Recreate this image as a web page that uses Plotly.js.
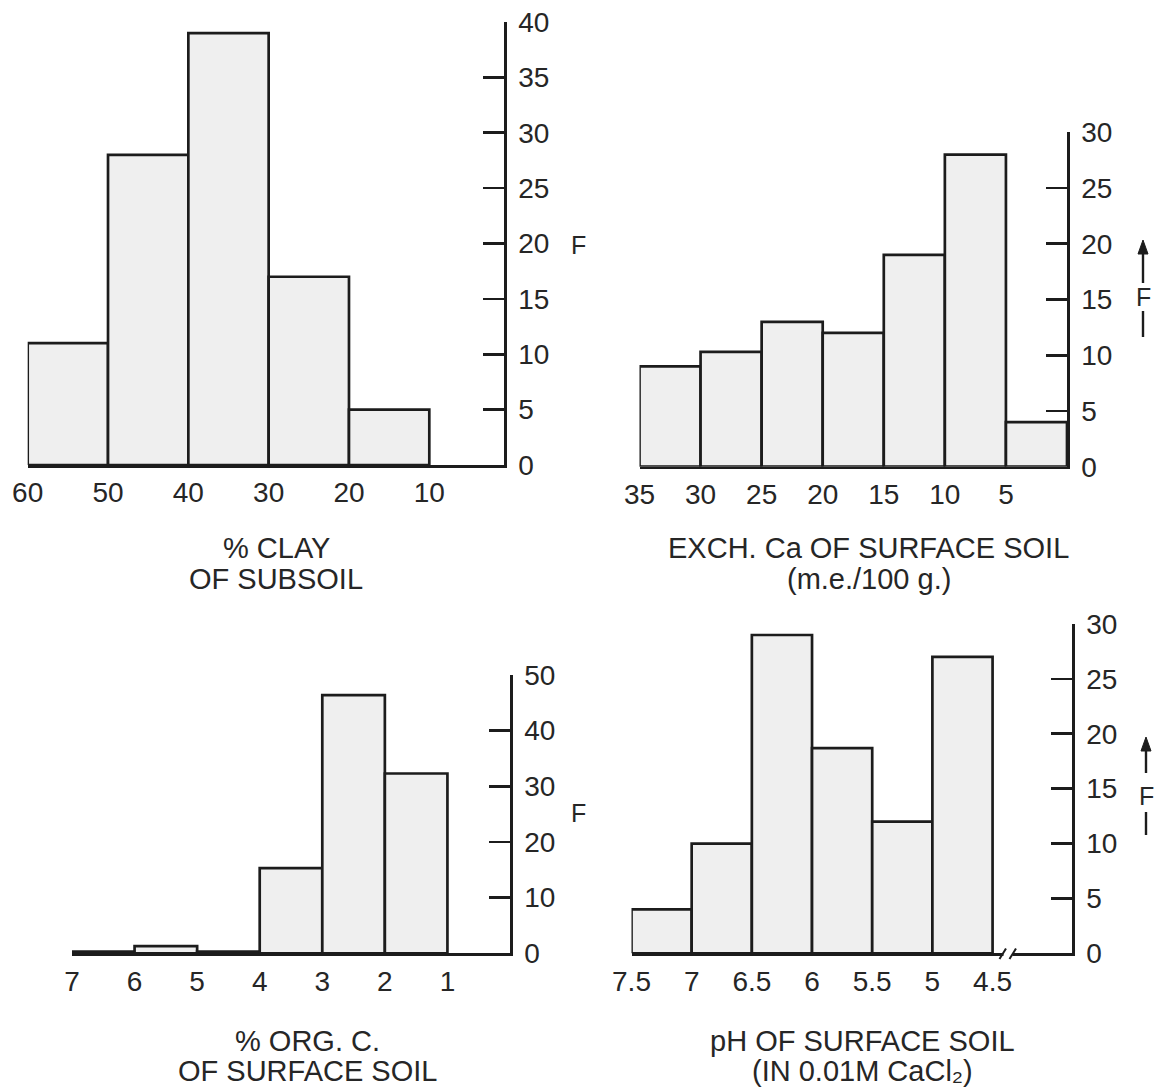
<!DOCTYPE html>
<html>
<head>
<meta charset="utf-8">
<script src="https://cdn.plot.ly/plotly-3.0.1.min.js"></script>
<style>
html,body{margin:0;padding:0;background:#fff;}
#chart{width:1156px;height:1090px;}
</style>
</head>
<body>
<div id="chart"></div>
<script>
// ---- data ----
const clayEdges = [60, 50, 40, 30, 20, 10];
const clayFreq  = [11, 28, 39, 17, 5];
const clayXTicks = [60, 50, 40, 30, 20, 10];
const clayYTicks = [0, 5, 10, 15, 20, 25, 30, 35, 40];

const caEdges = [35, 30, 25, 20, 15, 10, 5, 0];
const caFreq  = [9, 10.3, 13, 12, 19, 28, 4];
const caXTicks = [35, 30, 25, 20, 15, 10, 5];
const caYTicks = [0, 5, 10, 15, 20, 25, 30];

const orgEdges = [7, 6, 5, 4, 3, 2, 1];
const orgFreq  = [0.3, 1.3, 0.3, 15.3, 46.4, 32.3];
const orgXTicks = [7, 6, 5, 4, 3, 2, 1];
const orgYTicks = [0, 10, 20, 30, 40, 50];

const phEdges = [7.5, 7, 6.5, 6, 5.5, 5, 4.5];
const phFreq  = [4, 10, 29, 18.7, 12, 27];
const phXTicks = [7.5, 7, 6.5, 6, 5.5, 5, 4.5];
const phYTicks = [0, 5, 10, 15, 20, 25, 30];

const titles = [
  ['% CLAY', 'OF SUBSOIL'],
  ['EXCH. Ca OF SURFACE SOIL', '(m.e./100 g.)'],
  ['% ORG. C.', 'OF SURFACE SOIL'],
  ['pH OF SURFACE SOIL', '(IN 0.01M CaCl\u2082)']
];

// ---- layout helpers (pixel -> paper) ----
const W = 1156, H = 1090;
const px = v => v / W;
const py = v => 1 - v / H;
const INK = '#1c1c1c';
const TXT = '#262626';
const FONT = 'Liberation Sans, DejaVu Sans, Arial, sans-serif';

function binTrace(edges, freq, ax) {
  const x = [], w = [];
  for (let i = 0; i < freq.length; i++) {
    x.push((edges[i] + edges[i + 1]) / 2);
    w.push(Math.abs(edges[i] - edges[i + 1]));
  }
  return {
    type: 'bar', x: x, y: freq, width: w,
    xaxis: 'x' + ax, yaxis: 'y' + ax,
    marker: {color: '#efefef', line: {color: INK, width: 2.7}},
    hoverinfo: 'skip', showlegend: false
  };
}

const traces = [
  binTrace(clayEdges, clayFreq, ''),
  binTrace(caEdges, caFreq, '2'),
  binTrace(orgEdges, orgFreq, '3'),
  binTrace(phEdges, phFreq, '4')
];

function xAx(domPx, range, ticks, anchor) {
  return {
    domain: [px(domPx[0]), px(domPx[1])], range: range, anchor: anchor,
    showline: true, linecolor: INK, linewidth: 2.7,
    showgrid: false, zeroline: false,
    tickmode: 'array', tickvals: ticks, ticktext: ticks.map(String),
    ticks: 'outside', ticklen: 1, tickcolor: 'rgba(0,0,0,0)',
    tickfont: {family: FONT, size: 28, color: TXT},
    fixedrange: true
  };
}
function yAx(domPx, range, ticks, anchor) {
  return {
    domain: [py(domPx[1]), py(domPx[0])], range: range, anchor: anchor, side: 'right',
    showline: true, linecolor: INK, linewidth: 2.7,
    showgrid: false, zeroline: false,
    tickmode: 'array', tickvals: ticks, ticktext: ticks.map(String),
    ticks: 'inside', ticklen: 21, tickwidth: 2.6, tickcolor: INK,
    ticklabelstandoff: 6,
    tickfont: {family: FONT, size: 28, color: TXT},
    fixedrange: true
  };
}

const layout = {
  width: W, height: H,
  margin: {l: 0, r: 0, t: 0, b: 0},
  paper_bgcolor: '#ffffff', plot_bgcolor: 'rgba(0,0,0,0)',
  bargap: 0, showlegend: false,
  xaxis:  xAx([27.7, 504], [60, 0.7], clayXTicks, 'y'),
  yaxis:  yAx([22, 465], [0, 40], clayYTicks, 'x'),
  xaxis2: xAx([639.5, 1067], [35, 0], caXTicks, 'y2'),
  yaxis2: yAx([132.3, 466.7], [0, 30], caYTicks, 'x2'),
  xaxis3: xAx([72, 510], [7, 0], orgXTicks, 'y3'),
  yaxis3: yAx([675, 953.3], [0, 50], orgYTicks, 'x3'),
  xaxis4: xAx([631.5, 1072], [7.5, 3.84], phXTicks, 'y4'),
  yaxis4: yAx([624, 953.3], [0, 30], phYTicks, 'x4'),
  annotations: [],
  shapes: []
};

function txt(x, y, t, size) {
  layout.annotations.push({
    xref: 'paper', yref: 'paper', x: px(x), y: py(y),
    xanchor: 'center', yanchor: 'middle', showarrow: false,
    text: t, font: {family: FONT, size: size, color: TXT}
  });
}
// panel titles (below each panel)
txt(276, 548, titles[0][0], 29); txt(276, 579, titles[0][1], 29);
txt(868, 548, titles[1][0], 29); txt(869, 579, titles[1][1], 29);
txt(308, 1041, titles[2][0], 29); txt(308, 1071, titles[2][1], 29);
txt(862, 1041, titles[3][0], 29); txt(862, 1071, titles[3][1], 29);

// "F" axis labels
txt(578, 245, 'F', 25);
txt(578, 813, 'F', 25);
txt(1143, 297, 'F', 25);
txt(1146, 796, 'F', 25);

function seg(x0, y0, x1, y1, w) {
  layout.shapes.push({type: 'line', xref: 'paper', yref: 'paper',
    x0: px(x0), y0: py(y0), x1: px(x1), y1: py(y1),
    line: {color: INK, width: w || 2.4}, layer: 'above'});
}
function arrowUp(x, tip, tail, barTop, barBot) {
  seg(x, tail, x, tip + 8, 2.4);
  layout.shapes.push({type: 'path', xref: 'paper', yref: 'paper',
    path: 'M' + px(x - 5) + ',' + py(tip + 14) + ' L' + px(x) + ',' + py(tip) + ' L' + px(x + 5) + ',' + py(tip + 14) + ' Z',
    fillcolor: INK, line: {color: INK, width: 1}, layer: 'above'});
  seg(x, barTop, x, barBot, 2.4);
}
arrowUp(1143, 240, 283, 311, 337);
arrowUp(1146, 737, 773, 812, 835);

// axis break on the pH panel
layout.shapes.push({type: 'rect', xref: 'paper', yref: 'paper',
  x0: px(1003.5), x1: px(1012.5), y0: py(958), y1: py(950),
  fillcolor: '#ffffff', line: {width: 0}, layer: 'above'});
seg(999.5, 959, 1006, 948.5, 2);
seg(1009.5, 959, 1016, 948.5, 2);

Plotly.newPlot('chart', traces, layout, {staticPlot: true, displayModeBar: false});
</script>
</body>
</html>
